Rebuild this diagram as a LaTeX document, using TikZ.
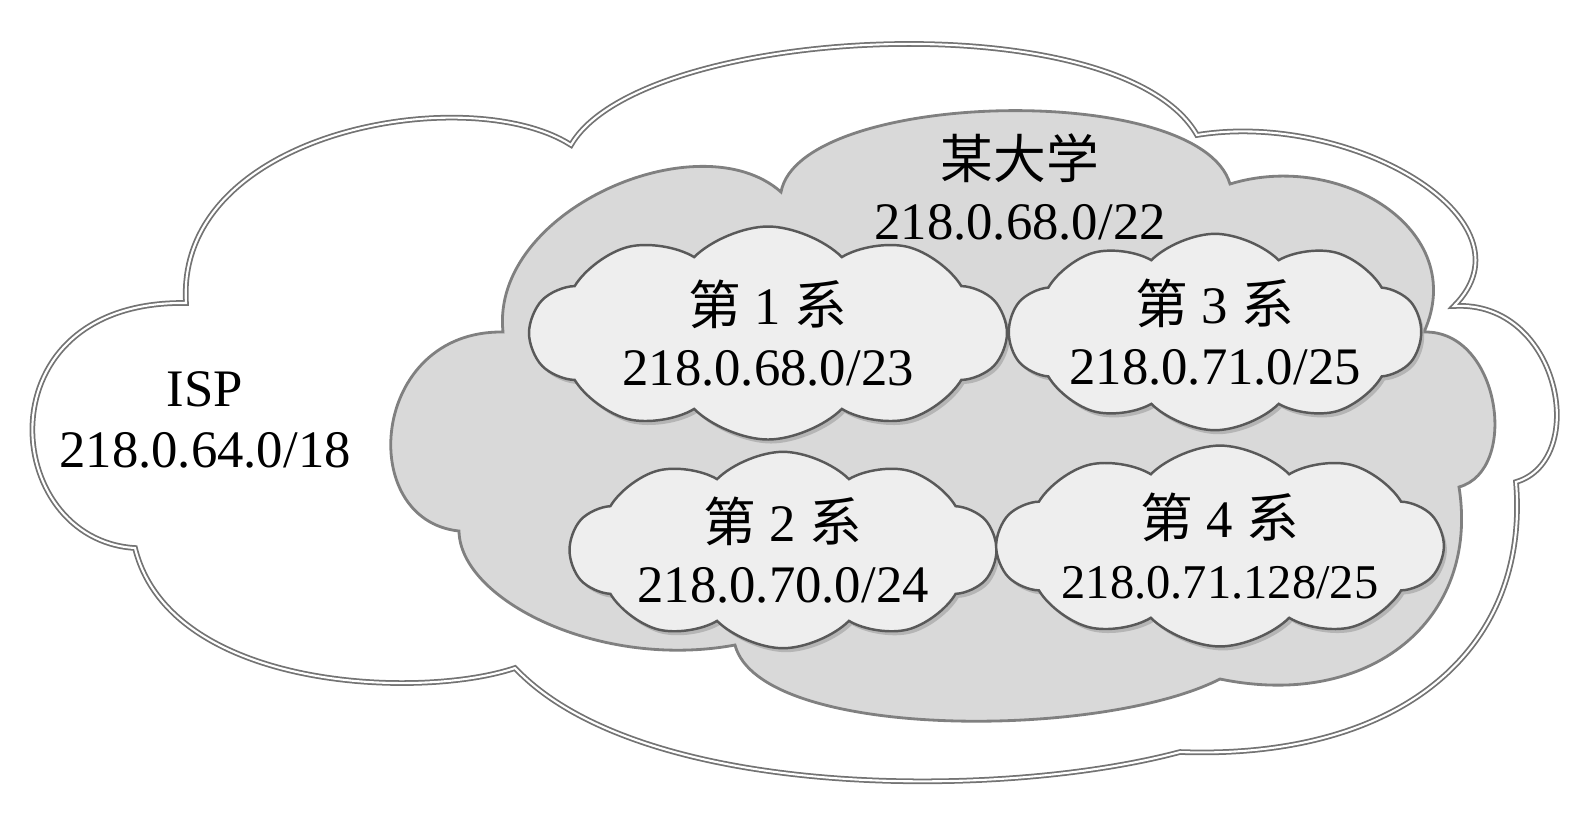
\documentclass[tikz,border=0pt]{standalone}
\usepackage{fontspec}
\setmainfont{Liberation Serif}
\newfontfamily\cjk{Noto Sans CJK SC}
\usetikzlibrary{shapes.symbols, shadows}

\tikzset{
    ispline/.style={draw=black!55, double=white, double distance=0.6pt, line width=0.5pt},
    uniline/.style={draw=black!50, line width=0.8pt, fill=gray!30},
    dept/.style={cloud, cloud puffs=10, cloud puff arc=90, cloud ignores aspect,
        draw=black!65, line width=0.7pt, fill=gray!13, inner sep=0pt, align=center,
        drop shadow={shadow xshift=0.3mm, shadow yshift=-0.4mm, fill=black!35, opacity=0.7},
        font=\fontsize{15}{17.5}\selectfont},
    tag/.style={align=center, font=\fontsize{15}{17.5}\selectfont}
}

\begin{document}
\begin{tikzpicture}[x=0.1mm, y=-0.1mm]
            % big cloud (ISP)
            \draw[ispline, fill=white] (186,303) .. controls (175,130) and (470,80) .. (571,145)
                .. controls (640,25) and (1120,0) .. (1197,135)
                .. controls (1350,110) and (1540,220) .. (1454,306)
                .. controls (1560,300) and (1590,460) .. (1516,482)
                .. controls (1530,650) and (1400,760) .. (1180,752)
                .. controls (1000,800) and (640,800) .. (515,668)
                .. controls (420,700) and (170,690) .. (135,548)
                .. controls (0,540) and (-20,300) .. (186,303) -- cycle;

            % university cloud
            \draw[uniline] (503,332) .. controls (490,210) and (700,120) .. (781,192)
                .. controls (800,90) and (1200,80) .. (1230,184)
                .. controls (1340,150) and (1470,230) .. (1424,332)
                .. controls (1500,330) and (1520,470) .. (1459,487)
                .. controls (1480,620) and (1370,710) .. (1220,679)
                .. controls (1100,740) and (760,740) .. (735,645)
                .. controls (600,670) and (460,600) .. (459,531)
                .. controls (355,520) and (370,330) .. (503,332) -- cycle;

            % departments
            \node[dept, minimum width=4.75cm, minimum height=2.13cm] (dept1) at (768,333)
                {{\cjk 第} 1 {\cjk 系}\\218.0.68.0/23};
            \node[dept, minimum width=4.25cm, minimum height=1.8cm] (dept2) at (783,550)
                {{\cjk 第} 2 {\cjk 系}\\218.0.70.0/24};
            \node[dept, minimum width=3.75cm, minimum height=1.53cm] (dept3) at (1215,332)
                {{\cjk 第} 3 {\cjk 系}\\218.0.71.0/25};
            \node[dept, minimum width=3.8cm, minimum height=1.58cm] (dept4) at (1220,546)
                {{\cjk 第} 4 {\cjk 系}\\{\fontsize{13.8}{16}\selectfont 218.0.71.128/25}};

            % notations
            \node[tag] (isp) at (205,420) {ISP\\218.0.64.0/18};
            \node[tag] (uni) at (1020,187) {{\cjk 某大学}\\218.0.68.0/22};

            \pgfresetboundingbox
            \useasboundingbox (0,0) rectangle (1586,812);
\end{tikzpicture}
\end{document}
